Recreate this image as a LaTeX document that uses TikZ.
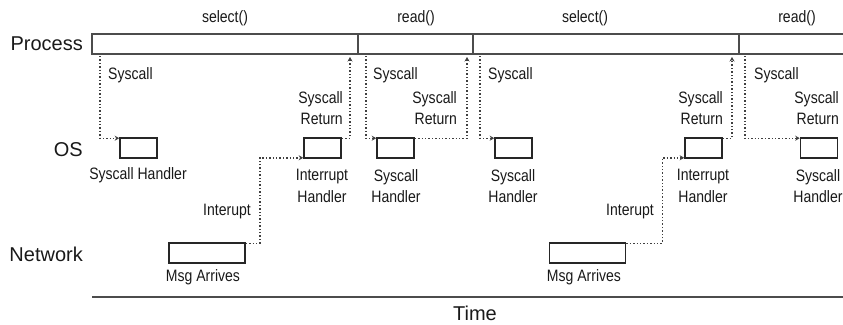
\documentclass[tikz,border=0pt]{standalone}
\usepackage{fontspec}
\setmainfont{Liberation Sans}
\newfontfamily\lblfont[FakeStretch=0.85]{Liberation Sans}
\usetikzlibrary{arrows.meta}
\begin{document}
\begin{tikzpicture}[x=1pt,y=-1pt,
  lbl/.style={font=\lblfont\fontsize{16.5}{21.5}\selectfont, inner sep=0pt, text=black!90},
  row/.style={font=\fontsize{20}{24}\selectfont, inner sep=0pt, anchor=east, text=black!90},
  osbox/.style={draw=black!85, line width=1.6pt, minimum width=37pt, minimum height=20pt, inner sep=0pt},
  netbox/.style={osbox, minimum width=76pt},
  conn/.style={dotted, line width=1.4pt, draw=black!75, -{Stealth[length=4.5pt,width=5pt]}},
  bar/.style={draw=black!70, line width=1.8pt}]
\useasboundingbox (0,0) rectangle (843,324);

% row labels
\node[row] (lproc) at (83,44) {Process};
\node[row] (los) at (83,150) {OS};
\node[row] (lnet) at (83,254) {Network};
\node[font=\fontsize{20}{24}\selectfont, inner sep=0pt, text=black!90] (ltime) at (475,313) {Time};

% process bar
\draw[bar] (843,34) -- (92,34) -- (92,54) -- (843,54);
\draw[bar] (358,34) -- (358,54);
\draw[bar] (473,34) -- (473,54);
\draw[bar] (739,34) -- (739,54);

% call labels
\node[lbl] (c1) at (225,18) {select()};
\node[lbl] (c2) at (416,18) {read()};
\node[lbl] (c3) at (585,18) {select()};
\node[lbl] (c4) at (797,18) {read()};

% time axis
\draw[bar] (92,297) -- (843,297);

% boxes
\node[osbox] (os1) at (138.5,148) {};
\node[osbox] (os2) at (322.5,148) {};
\node[osbox] (os3) at (395.5,148) {};
\node[osbox] (os4) at (513.5,148) {};
\node[osbox] (os5) at (703.5,148) {};
\node[osbox] (os6) at (819,148) {};
\node[netbox] (net1) at (207,253) {};
\node[netbox] (net2) at (587.5,253) {};

% bar coordinates
\coordinate (s1) at (100,56);
\coordinate (r1) at (350,57);
\coordinate (s2) at (366,56);
\coordinate (r2) at (467,57);
\coordinate (s3) at (480,56);
\coordinate (r3) at (732,57);
\coordinate (s4) at (745,56);

% connectors
\draw[conn] (s1) |- ([yshift=-1pt]os1.north west);
\draw[conn] ([yshift=-1pt]os2.north east) -| (r1);
\draw[conn] (s2) |- ([yshift=-1pt]os3.north west);
\draw[conn] ([yshift=-1pt]os3.north east) -| (r2);
\draw[conn] (s3) |- ([yshift=-1pt]os4.north west);
\draw[conn] ([yshift=-1pt]os5.north east) -| (r3);
\draw[conn] (s4) |- ([yshift=-1pt]os6.north west);
\draw[conn] ([yshift=-1pt]net1.north east) -- ++(14,0) |- ([yshift=1pt]os2.south west);
\draw[conn] ([yshift=-1pt]net2.north east) -- ++(36,0) |- ([yshift=1pt]os5.south west);

% connector labels
\node[lbl, anchor=west] (ls1) at (108,75) {Syscall};
\node[lbl, anchor=east, align=right] (lr1) at (343,108) {Syscall\\Return};
\node[lbl, anchor=west] (ls2) at (373,75) {Syscall};
\node[lbl, anchor=east, align=right] (lr2) at (457,108) {Syscall\\Return};
\node[lbl, anchor=west] (ls3) at (488,75) {Syscall};
\node[lbl, anchor=east, align=right] (lr3) at (723,108) {Syscall\\Return};
\node[lbl, anchor=west] (ls4) at (754,75) {Syscall};
\node[lbl, anchor=east, align=right] (lr4) at (839,108) {Syscall\\Return};
\node[lbl, anchor=east] (li1) at (251,212) {Interupt};
\node[lbl, anchor=east] (li2) at (654,212) {Interupt};

% box labels
\node[lbl] (h1) at (138,175) {Syscall Handler};
\node[lbl, align=center] (h2) at (322,186) {Interrupt\\Handler};
\node[lbl, align=center] (h3) at (396,186) {Syscall\\Handler};
\node[lbl, align=center] (h4) at (513,186) {Syscall\\Handler};
\node[lbl, align=center] (h5) at (703,186) {Interrupt\\Handler};
\node[lbl, align=center] (h6) at (818,186) {Syscall\\Handler};
\node[lbl] (m1) at (203,277) {Msg Arrives};
\node[lbl] (m2) at (584,277) {Msg Arrives};
\end{tikzpicture}
\end{document}
